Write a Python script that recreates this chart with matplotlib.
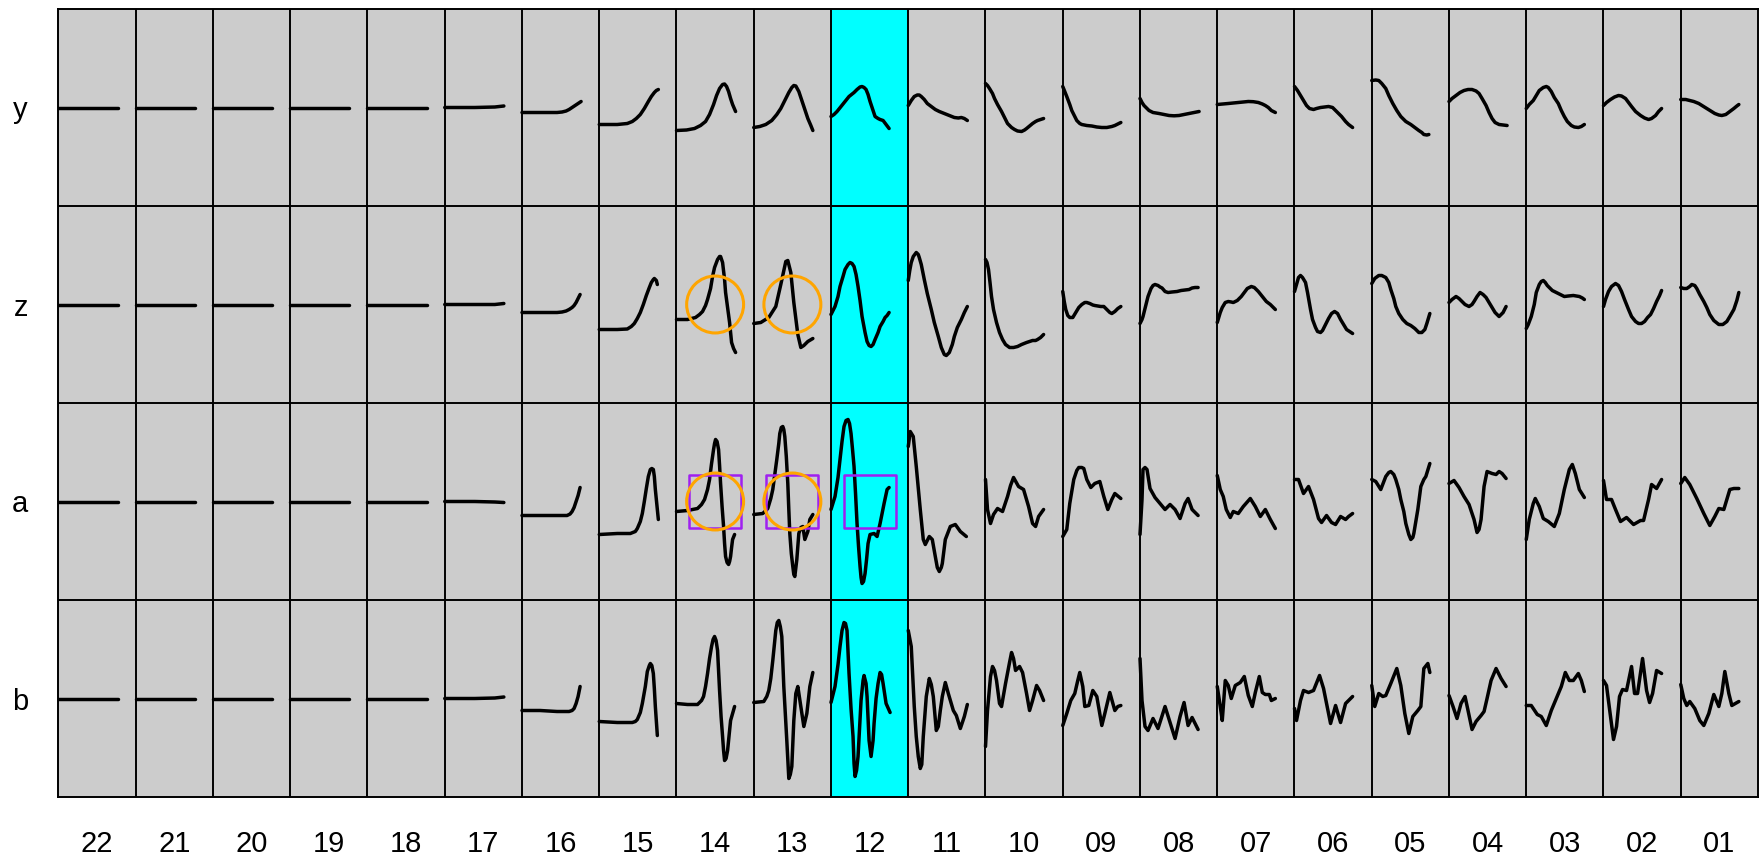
import numpy as np
import matplotlib
matplotlib.use("Agg")
import matplotlib.pyplot as plt

# ---------------- data ----------------
columns = ["22", "21", "20", "19", "18", "17", "16", "15", "14", "13", "12",
           "11", "10", "09", "08", "07", "06", "05", "04", "03", "02", "01"]
rows = ["y", "z", "a", "b"]
highlight_col = "12"
circle_cells = [("z", "14"), ("z", "13"), ("a", "14"), ("a", "13")]
square_cells = [("a", "14"), ("a", "13"), ("a", "12")]

FLAT = ([0, 59], [0, 0])

# each trace: (time samples, amplitudes)
row_y = [
    FLAT, FLAT, FLAT, FLAT, FLAT,
    ([0, 30, 50, 59], [0, 0, 0.5, 1.5]),
    ([0, 18, 35, 40, 44, 47, 50, 53, 56, 59], [-5, -5, -5, -4.5, -3.5, -2, 0, 2, 4, 6]),
    ([0, 18, 28, 33, 37, 41, 45, 49, 52, 55, 57, 59], [-17, -17, -16, -14, -11, -7, -1, 6, 11, 15, 17, 18]),
    ([0, 10, 18, 24, 29, 33, 37, 40, 43, 46, 48, 50, 52, 54, 56, 59],
     [-23, -22.5, -21, -18, -14, -7, 3, 12, 19, 23, 23.5, 21, 16, 9, 3, -4]),
    ([0, 6, 12, 18, 23, 27, 31, 35, 38, 40, 42, 45, 48, 51, 54, 57, 59],
     [-20, -19, -17, -13, -7, -1, 7, 15, 20, 22, 21.5, 16, 7, -2, -11, -18, -23]),
    ([0, 3, 6, 10, 14, 18, 23, 26, 29, 31, 33, 35, 37, 39, 41, 44, 47, 49, 52, 55, 58],
     [-9, -7, -4, 1, 6, 11, 15, 18, 20.5, 21, 20, 18, 13, 6, 0, -9, -11, -12, -13, -17, -21]),
    ([0, 3, 6, 9, 11, 13, 16, 19, 23, 27, 31, 36, 41, 46, 50, 53, 56, 59],
     [2, 7, 11, 12.5, 12.5, 11, 8, 4, 1, -2, -4, -6, -8, -10, -10.5, -10, -11, -13]),
    ([0, 2, 4, 7, 9, 12, 16, 19, 22, 26, 29, 32, 36, 39, 41, 44, 47, 50, 52, 55, 58],
     [24, 22, 19, 14, 9, 3, -4, -10, -16, -20, -22, -23.5, -24, -22.5, -21, -18.5, -16, -14, -13, -12, -11]),
    ([0, 2, 4, 7, 9, 12, 14, 17, 19, 24, 29, 34, 39, 44, 49, 52, 55, 58],
     [21, 16, 11, 3, -3, -9, -13, -16, -17, -18, -18.5, -19.5, -20, -20, -19, -18, -16.5, -15]),
    ([0, 2, 4, 6, 9, 13, 19, 24, 29, 34, 39, 44, 49, 54, 59],
     [9, 5, 2, 0, -3, -5, -6, -7, -8, -8.3, -8, -7, -6, -5, -4]),
    ([0, 11, 21, 31, 36, 41, 45, 48, 51, 54, 58], [3, 4, 5, 6, 5.8, 5, 3.5, 2, 0, -3, -5]),
    ([0, 3, 6, 9, 12, 15, 19, 22, 26, 30, 34, 38, 41, 44, 47, 51, 54, 58],
     [21, 17, 12, 7, 2, -1, -2, -1, 0, 0.5, 1, 0, -3, -6, -9, -14, -17, -20]),
    ([0, 4, 7, 10, 14, 17, 21, 25, 29, 34, 39, 43, 47, 50, 52, 55, 57],
     [27, 27.5, 27, 24, 19, 12, 4, -3, -9, -14, -17, -20, -23, -25, -27, -27.5, -27]),
    ([0, 3, 7, 11, 15, 19, 23, 27, 30, 33, 37, 40, 43, 46, 50, 54, 58],
     [6, 9, 12, 15, 17, 18, 18, 16.5, 14, 9, 2, -5, -11, -15, -17, -17.5, -18]),
    ([0, 3, 7, 10, 13, 17, 20, 22, 25, 28, 32, 35, 38, 41, 45, 48, 52, 55, 58],
     [-1, 3, 7, 12, 17, 20, 21, 20, 16, 10, 4, -3, -9, -14, -18, -19.5, -20, -19, -17]),
    ([0, 3, 7, 11, 15, 18, 22, 25, 28, 32, 37, 41, 45, 48, 52, 55, 58],
     [2, 5, 8, 10.5, 12, 11.5, 9, 5, 1, -4, -8, -10.5, -12, -11, -8, -4, -1]),
    ([0, 5, 9, 13, 18, 22, 26, 30, 34, 38, 41, 45, 49, 53, 56, 58],
     [8, 8, 7, 6, 4, 1.5, -1, -3.5, -6, -7.5, -8, -7, -4, -1, 1.5, 3]),
]

row_z = [
    FLAT, FLAT, FLAT, FLAT, FLAT,
    ([0, 30, 50, 59], [0, 0, 0, 1]),
    ([0, 18, 35, 40, 44, 47, 50, 52, 54, 56, 58], [-8, -8, -8, -7.5, -6.5, -5, -3, -1, 2, 6, 10]),
    ([0, 18, 28, 32, 35, 38, 41, 44, 47, 50, 52, 54, 55, 57, 58],
     [-25, -25, -24.5, -22, -19, -14, -8, 0, 9, 17, 22, 25, 26, 24, 20]),
    ([0, 11, 19, 23, 26, 29, 31, 34, 36, 38, 41, 43, 44, 46, 48, 49, 51, 53, 55, 57, 59],
     [-15, -15, -13, -10, -7, -1, 5, 16, 28, 37, 45, 48, 48, 42, 25, 12, -3, -18, -38, -44, -48]),
    ([0, 7, 15, 22, 27, 32, 34, 37, 40, 44, 47, 50, 54, 59],
     [-19, -18, -13, -2, 20, 43, 44, 32, 2, -30, -43, -41, -37, -34]),
    ([0, 2, 4, 7, 9, 12, 14, 17, 19, 21, 23, 25, 27, 29, 31, 34, 36, 38, 40, 42, 44, 47, 49, 52, 54, 56, 58],
     [-10, -6, -2, 8, 18, 28, 35, 40, 42, 41, 38, 30, 18, 4, -12, -28, -37, -41, -42, -40, -35, -28, -22, -17, -13, -11, -8]),
    ([0, 1.5, 3, 5, 8, 10, 11, 13, 16, 19, 23, 26, 30, 33, 36, 38, 41, 44, 46, 49, 53, 56, 59],
     [24, 34, 42, 48, 52, 50, 47, 40, 25, 11, -5, -18, -32, -43, -50, -51, -48, -40, -32, -23, -15, -8, -2]),
    ([0, 1.5, 3, 4.5, 6, 8, 11, 14, 17, 20, 24, 28, 32, 36, 41, 44, 47, 50, 52, 55, 58],
     [45, 42, 35, 22, 8, -5, -18, -28, -35, -40, -43, -43, -42, -40, -38, -37, -36, -36, -35, -33, -30]),
    ([0, 1.5, 3, 5, 7, 10, 13, 16, 19, 22, 24, 27, 30, 32, 35, 38, 41, 44, 47, 49, 52, 55, 58],
     [13, 3, -5, -11, -13, -13, -8, -3, 0, 2, 2, 1, -0.5, -1, -1.5, -2, -2, -5, -8, -9, -7, -4, -2]),
    ([0, 2, 3, 5, 8, 11, 13, 15, 18, 20, 22, 25, 28, 32, 37, 41, 45, 49, 52, 55, 58],
     [-19, -15, -12, -4, 8, 16, 19, 20, 19, 17.5, 16.5, 13, 12, 12.5, 13, 14, 14.5, 15, 16.5, 17, 17]),
    ([0, 1.5, 3, 5, 8, 11, 14, 16, 20, 24, 27, 30, 34, 37, 41, 45, 49, 53, 56, 58],
     [-18, -13, -8, -3, 2, 3, 2.5, 2, 4, 8, 12, 16, 18, 17, 13, 8, 3, 0, -3, -5]),
    ([0, 2, 4, 6, 8, 11, 13, 16, 18, 21, 23, 26, 28, 31, 34, 37, 40, 43, 46, 49, 52, 55, 58],
     [13, 20, 27, 29, 27, 22, 12, -5, -15, -23, -27, -28, -26, -20, -14, -9, -7, -9, -15, -20, -25, -27, -29]),
    ([0, 3, 7, 10, 14, 17, 19, 22, 24, 27, 31, 35, 39, 43, 47, 50, 53, 55, 58],
     [21, 26, 29, 29, 27, 22, 15, 6, -2, -9, -15, -19, -21, -24, -28, -28, -25, -19, -9]),
    ([0, 3, 7, 10, 13, 16, 20, 23, 25, 28, 31, 34, 37, 40, 43, 46, 50, 54, 57],
     [2, 5, 8, 6, 3, 0, -2, 0, 3, 8, 12, 10, 7, 2, -3, -8, -12, -8, -2]),
    ([0, 2, 5, 8, 10, 13, 15, 17, 19, 21, 23, 26, 30, 34, 38, 42, 47, 50, 53, 56, 58],
     [-24, -20, -12, 0, 12, 20, 23, 24, 22, 19, 17, 14, 12, 10, 8, 8.5, 9, 8.5, 8, 6.5, 5]),
    ([0, 2, 5, 8, 12, 15, 18, 21, 25, 28, 32, 35, 38, 41, 44, 47, 50, 53, 56, 58],
     [-2, 5, 13, 18, 21, 19, 13, 5, -5, -12, -17, -19, -19, -17, -13, -10, -4, 3, 9, 14]),
    ([0, 3, 6, 9, 11, 14, 16, 19, 23, 26, 29, 33, 38, 42, 46, 49, 53, 56, 58],
     [17, 16, 16, 18, 20, 19, 16, 10, 3, -3, -10, -16, -20, -20, -17, -12, -5, 4, 12]),
]

row_a = [
    FLAT, FLAT, FLAT, FLAT, FLAT,
    ([0, 30, 50, 59], [0, 0, -0.5, -1]),
    ([0, 18, 35, 45, 48, 50, 52, 54, 56, 58], [-14, -14, -14, -14, -12.5, -10, -6, 0, 6, 14]),
    ([0, 18, 31, 36, 38, 41, 43, 45, 47, 49, 51, 52.5, 54, 55, 56, 57.5, 59],
     [-33, -32, -32, -30, -27, -20, -12, 0, 13, 25, 32, 33, 32, 25, 12, -3, -18]),
    ([0, 11, 21, 25, 28, 31, 33, 35, 37, 38, 39, 40.5, 42, 43, 44, 45.5, 47, 48, 49, 50.5, 52, 53, 54, 55, 56, 58],
     [-10, -9, -7, -3, 2, 12, 22, 38, 52, 58, 62, 60, 52, 36, 18, -5, -25, -42, -55, -61, -63, -60, -55, -46, -38, -33]),
    ([0, 9, 14, 17, 19, 21, 23, 25, 26, 27.5, 29, 30, 31, 32.5, 34, 35, 36, 37.5, 39, 40, 41, 43, 45, 47, 49, 51, 54, 56, 59],
     [-13, -12, -7, 3, 12, 27, 42, 58, 68, 74, 75, 72, 65, 45, 18, -8, -32, -52, -65, -73, -75, -58, -32, -26, -25, -38, -30, -18, -13]),
    ([0, 4, 7, 9, 11, 13, 15, 17, 18.5, 20, 21.5, 23, 24.5, 26, 27.5, 29, 30, 31, 32.5, 34, 35.5, 37, 39, 43, 46, 49, 51, 53, 56, 58],
     [-8, 5, 24, 42, 60, 75, 81, 82, 78, 68, 52, 35, 8, -22, -45, -65, -76, -82, -80, -72, -58, -42, -33, -32, -35, -22, -12, -2, 12, 14]),
    ([0, 2, 5, 8, 12, 15, 17, 21, 24, 27, 29, 31, 33, 34, 37, 42, 47, 52, 58],
     [55, 70, 65, 35, -8, -38, -43, -35, -38, -55, -66, -70, -66, -62, -38, -25, -23, -30, -35]),
    ([0, 2, 5, 8, 12, 17, 22, 25, 28, 33, 38, 43, 47, 50, 53, 58],
     [22, -8, -22, -13, -7, -10, 5, 16, 24, 15, 12, -5, -22, -25, -15, -8]),
    ([0, 4, 7, 11, 14, 16, 19, 21, 24, 28, 32, 37, 41, 45, 49, 52, 58],
     [-35, -28, -2, 22, 31, 34, 34, 33, 22, 14, 18, 20, 5, -8, 2, 8, 3]),
    ([0, 2, 3, 5, 7, 10, 15, 20, 25, 30, 35, 40, 45, 48, 52, 58],
     [-33, 2, 32, 34, 32, 13, 4, -2, -8, -3, -8, -17, -2, 3, -8, -14]),
    ([0, 3, 6, 9, 13, 16, 21, 26, 33, 38, 43, 48, 53, 58],
     [26, 12, 5, -8, -16, -10, -12, -5, 3, -5, -15, -8, -18, -27]),
    ([0, 4, 9, 14, 19, 24, 27, 32, 37, 41, 46, 51, 54, 58],
     [22, 22, 8, 15, 2, -17, -21, -14, -21, -23, -15, -18, -15, -12]),
    ([0, 4, 9, 14, 17, 19, 22, 24, 27, 29, 32, 34, 37, 39, 41, 42, 44, 46, 49, 52, 54, 58],
     [22, 20, 12, 25, 29, 30, 27, 22, 12, 2, -10, -22, -33, -38, -36, -32, -20, -8, 15, 22, 25, 38]),
    ([0, 5, 10, 15, 20, 25, 28, 30, 32, 35, 38, 43, 47, 50, 53, 57],
     [18, 21, 14, 5, -3, -18, -31, -28, -18, 15, 30, 28, 27, 30, 28, 23]),
    ([0, 3, 7, 9, 13, 17, 22, 28, 33, 38, 41, 43, 46, 49, 53, 58],
     [-38, -18, -2, 3, -5, -17, -20, -25, -12, 12, 24, 32, 37, 28, 12, 4]),
    ([0, 3, 8, 12, 17, 23, 30, 37, 40, 45, 48, 53, 58],
     [21, 2, 2, -8, -20, -16, -23, -19, -19, 2, 17, 13, 22]),
    ([0, 4, 9, 16, 23, 29, 34, 38, 43, 46, 49, 53, 58],
     [18, 24, 17, 3, -12, -24, -15, -7, -8, 2, 12, 13, 13]),
]

row_b = [
    FLAT, FLAT, FLAT, FLAT, FLAT,
    ([0, 30, 50, 59], [0, 0, 0.5, 1.5]),
    ([0, 18, 35, 47, 50, 52, 54, 56, 58], [-12, -12, -13, -13, -12, -10, -5, 2, 12]),
    ([0, 18, 33, 36, 38, 41, 43, 46, 48, 50, 51, 52.5, 54, 55, 56, 58],
     [-23, -24, -24, -23, -21, -14, -5, 12, 27, 33, 35, 33, 25, 10, -8, -37]),
    ([0, 11, 21, 25, 27, 29, 31, 33, 35, 36.5, 38, 39.5, 41, 43, 44.5, 46, 47, 48, 49.5, 51, 54, 58],
     [-5, -6, -6, -2, 2, 12, 25, 40, 52, 59, 62, 58, 48, 8, -18, -38, -52, -62, -60, -52, -22, -8]),
    ([0, 10, 13, 15, 17, 19, 22, 23.5, 25, 26.5, 28, 30, 33, 35, 36.5, 38, 40, 42, 44, 47, 50, 53, 56, 59],
     [-4, -3, 2, 8, 20, 38, 68, 76, 78, 72, 62, 12, -42, -80, -76, -68, -22, 5, 12, -8, -28, -15, 12, 26]),
    ([0, 4, 7, 9, 11, 13, 14.5, 16, 18, 20, 22, 23, 24, 25.5, 27, 30, 32, 33, 35, 36, 38, 40, 42, 43, 45, 47, 49, 50.5, 52, 55, 59],
     [-4, 12, 34, 52, 68, 76, 75, 68, 25, -10, -38, -65, -78, -72, -58, -2, 18, 23, 15, 2, -42, -58, -42, -25, 0, 15, 26, 24, 15, -5, -14]),
    ([0, 3, 6, 8, 10, 12, 13.5, 15, 18, 21, 23, 25, 28, 30, 32, 34, 37, 40, 45, 48, 52, 56, 59],
     [68, 52, -8, -38, -58, -70, -66, -38, 2, 20, 14, 2, -32, -28, -12, 2, 16, 5, -12, -17, -30, -18, -6]),
    ([0, 2, 5, 7, 9, 11, 14, 16, 20, 24, 26, 28, 30, 34, 37, 41, 44, 47, 51, 54, 58],
     [-48, -12, 22, 32, 28, 18, -5, -8, 15, 36, 46, 40, 28, 32, 26, 5, -12, -2, 13, 8, -2]),
    ([0, 4, 8, 12, 15, 17, 20, 22, 26, 30, 34, 39, 42, 47, 52, 55, 58],
     [-27, -15, -2, 5, 18, 26, 12, -8, -7, 8, 2, -27, -15, 6, -12, -8, -7]),
    ([0, 2, 5, 8, 13, 18, 25, 30, 35, 40, 44, 48, 52, 55, 58],
     [40, -2, -28, -32, -20, -30, -8, -24, -40, -18, -4, -27, -19, -25, -31]),
    ([0, 3, 5, 8, 11, 14, 18, 23, 27, 31, 35, 38, 42, 45, 48, 52, 54, 58],
     [12, -8, -22, 18, 13, 0, 13, 16, 22, 3, -8, 6, 22, 6, 4, 4, -2, 0]),
    ([0, 2, 6, 9, 14, 19, 25, 29, 36, 41, 46, 51, 58],
     [-10, -22, -2, 8, 6, 8, 23, 10, -25, -7, -24, -5, 2]),
    ([0, 3, 7, 11, 14, 19, 25, 29, 33, 37, 41, 46, 49, 52, 56, 58],
     [13, -8, 5, 2, 3, 15, 30, 13, -15, -35, -18, -12, -8, 30, 35, 26]),
    ([0, 4, 8, 12, 16, 19, 23, 27, 32, 35, 38, 42, 47, 52, 57],
     [3, -8, -20, -5, 2, -12, -31, -23, -17, -13, 0, 18, 30, 20, 12]),
    ([0, 5, 11, 15, 20, 25, 30, 35, 39, 43, 47, 52, 55, 58],
     [-7, -7, -16, -18, -27, -12, 0, 12, 26, 18, 18, 25, 18, 7]),
    ([0, 3, 7, 10, 13, 16, 19, 23, 28, 31, 34, 39, 43, 46, 49, 53, 58],
     [18, 13, -18, -41, -28, 2, 9, 8, 32, 5, 5, 40, 8, -4, 5, 28, 25]),
    ([0, 3, 6, 9, 14, 19, 23, 28, 33, 38, 41, 44, 48, 51, 58],
     [14, 0, -7, -3, -10, -22, -27, -15, 4, -8, 5, 27, 5, -7, -3]),
]

traces = {"y": row_y, "z": row_z, "a": row_a, "b": row_b}

# ---------------- drawing ----------------
T_SPAN = 59.0         # time extent of each trace
TRACE_W = 0.765       # fraction of cell width occupied by a trace
AMP_PER_CELL = 197.0  # amplitude units per cell height

plt.rcParams["font.family"] = ["Liberation Sans", "DejaVu Sans"]

fig = plt.figure(figsize=(17.65, 8.67), dpi=100)
ax = fig.add_axes([58.5 / 1765, 1 - 797 / 867, (1758 - 58.5) / 1765, (797 - 9) / 867])
ax.set_facecolor("#cccccc")
ncol, nrow = len(columns), len(rows)
ax.set_xlim(0, ncol)
ax.set_ylim(0, nrow)

hc = columns.index(highlight_col)
ax.axvspan(hc, hc + 1, color="#00ffff", zorder=0.5, lw=0)

for i in range(1, ncol):
    ax.axvline(i, color="black", lw=1.4, zorder=1)
for j in range(1, nrow):
    ax.axhline(j, color="black", lw=1.4, zorder=1)

for r, rname in enumerate(rows):
    base = nrow - r - 0.5
    for i, col in enumerate(columns):
        t, a = traces[rname][i]
        x = i + np.asarray(t, float) / T_SPAN * TRACE_W
        y = base + np.asarray(a, float) / AMP_PER_CELL
        ax.plot(x, y, color="black", lw=2.5, solid_capstyle="round",
                solid_joinstyle="round", zorder=2)

def cell_center(rname, cname):
    return columns.index(cname) + 0.5, nrow - rows.index(rname) - 0.5

sq = [cell_center(r, c) for r, c in square_cells]
ax.scatter([p[0] for p in sq], [p[1] for p in sq], marker="s", s=37.5 ** 2,
           facecolors="none", edgecolors="#a020f0", linewidths=1.8, zorder=3)
ci = [cell_center(r, c) for r, c in circle_cells]
ax.scatter([p[0] for p in ci], [p[1] for p in ci], marker="o", s=41 ** 2,
           facecolors="none", edgecolors="#ffa500", linewidths=2.2, zorder=4)

ax.set_xticks(np.arange(ncol) + 0.5)
ax.set_xticklabels(columns)
ax.set_yticks([nrow - r - 0.5 for r in range(nrow)])
ax.set_yticklabels(rows)
ax.tick_params(axis="x", length=0, pad=24, labelsize=21)
ax.tick_params(axis="y", length=0, pad=22, labelsize=21)
for s in ax.spines.values():
    s.set_linewidth(1.4)
    s.set_color("black")

fig.savefig("out.png", dpi=100)
